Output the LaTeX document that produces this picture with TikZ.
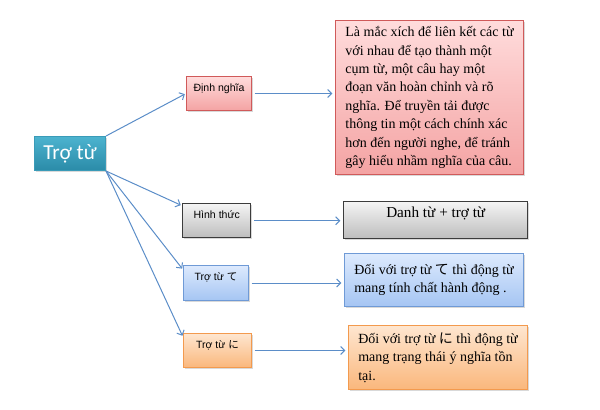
\documentclass[tikz,border=0pt]{standalone}
\usepackage{fontspec}
\setmainfont{Liberation Serif}
\newfontfamily\labelfont{Liberation Sans}
\newfontfamily\rootfont{Carlito}
\newfontfamily\jpfont{Noto Sans CJK JP}
\usepackage{xcolor}
\usetikzlibrary{arrows.meta, shadows, positioning}
\definecolor{linkblue}{HTML}{5B8DC8}
\definecolor{roottop}{HTML}{4DB3CF}
\definecolor{rootbot}{HTML}{2A8BA8}
\definecolor{rootline}{HTML}{3A9BB8}
\definecolor{pinktop}{HTML}{FFDCDC}
\definecolor{pinkbot}{HTML}{F4A3A3}
\definecolor{pinkline}{HTML}{D05A5A}
\definecolor{graytop}{HTML}{F4F4F4}
\definecolor{graybot}{HTML}{BDBDBD}
\definecolor{grayline}{HTML}{3C3C3C}
\definecolor{bluetop}{HTML}{DDEAFD}
\definecolor{bluebot}{HTML}{A5C5F3}
\definecolor{blueline}{HTML}{6F9AD6}
\definecolor{orangetop}{HTML}{FEE6D0}
\definecolor{orangebot}{HTML}{FAB77C}
\definecolor{orangeline}{HTML}{F39A4E}
\tikzstyle{box} = [rectangle, inner sep=0pt, anchor=north west, line width=0.75pt, drop shadow={shadow xshift=1pt, shadow yshift=-1pt, opacity=0.3}]
\tikzstyle{rootbox} = [box, draw=rootline, top color=roottop, bottom color=rootbot, text=white, font=\rootfont\fontsize{16}{18}\selectfont, minimum width=53.25pt, minimum height=25.5pt]
\tikzstyle{small} = [box, font=\labelfont\fontsize{7.9}{9}\selectfont, text height=5.5pt, text depth=9pt]
\tikzstyle{desc} = [box, font=\fontsize{10.5}{13.8}\selectfont, align=left]
\tikzstyle{pink} = [draw=pinkline, top color=pinktop, bottom color=pinkbot]
\tikzstyle{grey} = [draw=grayline, line width=1.1pt, top color=graytop, bottom color=graybot]
\tikzstyle{blue} = [draw=blueline, top color=bluetop, bottom color=bluebot]
\tikzstyle{orange} = [draw=orangeline, top color=orangetop, bottom color=orangebot]
\tikzstyle{arrow} = [draw=linkblue, line width=0.75pt, -{Straight Barb[length=3pt,width=6pt]}, shorten >=1pt]

\begin{document}
\begin{tikzpicture}[x=0.75pt, y=-0.75pt]
    \useasboundingbox (0,0) rectangle (600,410);

    \node[rootbox] (tro) at (34,136) {Trợ từ};

    \node[small, pink, minimum width=48.75pt, minimum height=25.5pt] (dinh) at (186,76) {Định nghĩa};
    \node[small, grey, minimum width=51pt, minimum height=25.5pt] (hinh) at (182,203) {Hình thức};
    \node[small, blue, minimum width=48.75pt, minimum height=26.25pt] (te) at (183,265) {Trợ từ {\jpfont て}};
    \node[small, orange, minimum width=51pt, minimum height=25.5pt] (ni) at (183,333) {Trợ từ {\jpfont に}};

    \node[desc, pink, minimum width=141pt, minimum height=115.5pt] (dinhdesc) at (335,20) {Là mắc xích để liên kết các từ\\với nhau để tạo thành một\\cụm từ, một câu hay một\\đoạn văn hoàn chỉnh và rõ\\nghĩa. Để truyền tải được\\thông tin một cách chính xác\\hơn đến người nghe, để tránh\\gây hiểu nhầm nghĩa của câu.};
    \node[desc, grey, font=\fontsize{11.4}{13.8}\selectfont, text height=8pt, text depth=11.5pt, minimum width=138pt, minimum height=27.75pt] (hinhdesc) at (343,201) {Danh từ + trợ từ};
    \node[desc, blue, minimum width=134.25pt, minimum height=39.75pt] (tedesc) at (344,253) {Đối với trợ từ {\jpfont て} thì động từ\\mang tính chất hành động .};
    \node[desc, orange, minimum width=134.25pt, minimum height=48pt] (nidesc) at (348,325) {Đối với trợ từ {\jpfont に} thì động từ\\mang trạng thái ý nghĩa tồn\\tại.};

    \draw[arrow] (tro.north east) -- (dinh.west);
    \draw[arrow] (tro.south east) -- ([yshift=-2pt]hinh.north west);
    \draw[arrow] (tro.south east) -- ([yshift=-3.5pt]te.north west);
    \draw[arrow] (tro.south east) -- ([yshift=-3pt]ni.north west);

    \draw[arrow, shorten <=2pt, shorten >=2pt] (dinh.east) -- (dinh.east -| dinhdesc.west);
    \draw[arrow, shorten <=2pt, shorten >=2pt] (hinh.east) -- (hinh.east -| hinhdesc.west);
    \draw[arrow, shorten <=2pt, shorten >=2pt] (te.east) -- (te.east -| tedesc.west);
    \draw[arrow, shorten <=2pt, shorten >=2pt] (ni.east) -- (ni.east -| nidesc.west);
\end{tikzpicture}
\end{document}
